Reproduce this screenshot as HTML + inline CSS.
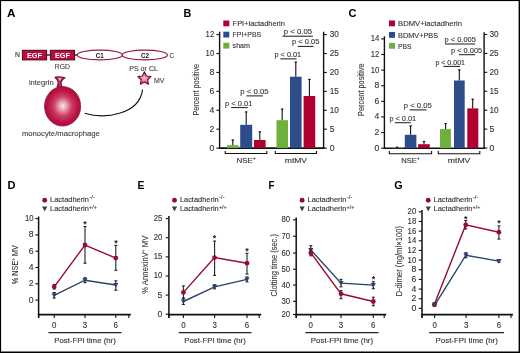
<!DOCTYPE html>
<html><head><meta charset="utf-8"><style>
html,body{margin:0;padding:0;background:#fff;overflow:hidden;width:520px;height:353px;}
svg{display:block;font-family:"Liberation Sans", sans-serif;will-change:transform;}
</style></head><body>
<svg width="520" height="353" viewBox="0 0 520 353">
<rect x="0" y="0" width="520" height="353" fill="#000"/>
<rect x="1.1" y="1.1" width="517.5" height="350.4" fill="#fff"/>
<text x="7" y="16.6" font-size="11" text-anchor="start" fill="#000" font-weight="700" textLength="8.5" lengthAdjust="spacingAndGlyphs">A</text>
<text x="15" y="57.4" font-size="7.4" text-anchor="start" fill="#263030" font-weight="400" textLength="5" lengthAdjust="spacingAndGlyphs" stroke="#263030" stroke-width="0.12">N</text>
<line x1="46.8" y1="55" x2="50.4" y2="55" stroke="#0a1a0a" stroke-width="1.3"/>
<line x1="74.4" y1="55" x2="77.3" y2="55" stroke="#0a1a0a" stroke-width="1.3"/>
<rect x="22.4" y="50.3" width="24.2" height="9.6" fill="#b80e3e" stroke="#520018" stroke-width="1"/>
<text x="34.5" y="58" font-size="7" text-anchor="middle" fill="#fff" font-weight="700" textLength="15" lengthAdjust="spacingAndGlyphs">EGF</text>
<rect x="50.4" y="50.3" width="24.2" height="9.6" fill="#b80e3e" stroke="#520018" stroke-width="1"/>
<text x="62.5" y="58" font-size="7" text-anchor="middle" fill="#fff" font-weight="700" textLength="15" lengthAdjust="spacingAndGlyphs">EGF</text>
<ellipse cx="99.8" cy="55" rx="22.6" ry="4.9" fill="none" stroke="#901a3c" stroke-width="1.2"/>
<ellipse cx="144.8" cy="55" rx="22.6" ry="4.9" fill="none" stroke="#901a3c" stroke-width="1.2"/>
<text x="99.8" y="58" font-size="7" text-anchor="middle" fill="#111" font-weight="700" textLength="8" lengthAdjust="spacingAndGlyphs">C1</text>
<text x="145" y="58" font-size="7" text-anchor="middle" fill="#111" font-weight="700" textLength="8" lengthAdjust="spacingAndGlyphs">C2</text>
<text x="169.4" y="57.6" font-size="7.4" text-anchor="start" fill="#444" font-weight="400" textLength="4.5" lengthAdjust="spacingAndGlyphs" stroke="#444" stroke-width="0.12">C</text>
<text x="54.7" y="69.2" font-size="7.6" text-anchor="start" fill="#444" font-weight="400" textLength="15.2" lengthAdjust="spacingAndGlyphs" stroke="#444" stroke-width="0.12">RGD</text>
<text x="28.9" y="85.2" font-size="7.9" text-anchor="start" fill="#444" font-weight="400" textLength="24.8" lengthAdjust="spacingAndGlyphs" stroke="#444" stroke-width="0.12">integrin</text>
<text x="129.2" y="70.5" font-size="7.2" text-anchor="start" fill="#444" font-weight="400" textLength="28.8" lengthAdjust="spacingAndGlyphs" stroke="#444" stroke-width="0.12">PS or CL</text>
<text x="153.9" y="83.4" font-size="7.5" text-anchor="start" fill="#444" font-weight="400" textLength="10.4" lengthAdjust="spacingAndGlyphs" stroke="#444" stroke-width="0.12">MV</text>
<text x="21.9" y="135.6" font-size="8" text-anchor="start" fill="#444" font-weight="400" textLength="78" lengthAdjust="spacingAndGlyphs" stroke="#444" stroke-width="0.12">monocyte/macrophage</text>
<defs>
<radialGradient id="ball" cx="0.5" cy="0.5" r="0.5" fx="0.51" fy="0.49">
<stop offset="0" stop-color="#f7e6ec"/>
<stop offset="0.22" stop-color="#e6a0b5"/>
<stop offset="0.5" stop-color="#cc3d63"/>
<stop offset="0.8" stop-color="#bb1545"/>
<stop offset="1" stop-color="#a80f3a"/>
</radialGradient>
<radialGradient id="star" cx="0.5" cy="0.5" r="0.5">
<stop offset="0" stop-color="#f8c6d4"/>
<stop offset="0.6" stop-color="#e27595"/>
<stop offset="1" stop-color="#c23a60"/>
</radialGradient>
</defs>
<path d="M55,77.3 Q58.5,76.3 65,77.8 Q61.2,80 60.9,82.4 L61.8,87 L57.2,87 L58.3,82.4 Q57.6,79.5 55,77.3 Z" fill="#b83a5e" stroke="#7a0a2c" stroke-width="1.15" stroke-linejoin="round"/>
<path d="M58.2,78 Q59.6,77.6 61.6,78.2 L59.8,81.2 Z" fill="#eab0c2"/>
<ellipse cx="62.6" cy="106.3" rx="18.1" ry="19.8" fill="url(#ball)" stroke="#9a0f38" stroke-width="0.7"/>
<path d="M84.7,113.3 C104,119 139,115.5 142.6,89.7" fill="none" stroke="#111" stroke-width="1.1"/>
<polygon points="144.40,71.80 146.40,75.95 150.96,76.57 147.63,79.75 148.46,84.28 144.40,82.10 140.34,84.28 141.17,79.75 137.84,76.57 142.40,75.95" fill="url(#star)" stroke="#6e0c2a" stroke-width="1.1" stroke-linejoin="round"/>
<text x="183.6" y="16.6" font-size="10.5" text-anchor="start" fill="#000" font-weight="700" textLength="7.8" lengthAdjust="spacingAndGlyphs">B</text>
<line x1="219.6" y1="31.7" x2="219.6" y2="148.79999999999998" stroke="#111" stroke-width="1.4"/>
<line x1="218.9" y1="148.1" x2="324.3" y2="148.1" stroke="#111" stroke-width="1.6"/>
<line x1="323.6" y1="31.7" x2="323.6" y2="148.79999999999998" stroke="#111" stroke-width="1.4"/>
<line x1="216.4" y1="34.6" x2="219.6" y2="34.6" stroke="#111" stroke-width="1.1"/>
<text x="214.2" y="37.1" font-size="8.6" text-anchor="end" fill="#333333" font-weight="400" textLength="8.6" lengthAdjust="spacingAndGlyphs" stroke="#333333" stroke-width="0.12">12</text>
<line x1="216.4" y1="53.52" x2="219.6" y2="53.52" stroke="#111" stroke-width="1.1"/>
<text x="214.2" y="56.02" font-size="8.6" text-anchor="end" fill="#333333" font-weight="400" textLength="8.6" lengthAdjust="spacingAndGlyphs" stroke="#333333" stroke-width="0.12">10</text>
<line x1="216.4" y1="72.44" x2="219.6" y2="72.44" stroke="#111" stroke-width="1.1"/>
<text x="214.2" y="74.94" font-size="8.6" text-anchor="end" fill="#333333" font-weight="400" textLength="4.8" lengthAdjust="spacingAndGlyphs" stroke="#333333" stroke-width="0.12">8</text>
<line x1="216.4" y1="91.36000000000001" x2="219.6" y2="91.36000000000001" stroke="#111" stroke-width="1.1"/>
<text x="214.2" y="93.86000000000001" font-size="8.6" text-anchor="end" fill="#333333" font-weight="400" textLength="4.8" lengthAdjust="spacingAndGlyphs" stroke="#333333" stroke-width="0.12">6</text>
<line x1="216.4" y1="110.28" x2="219.6" y2="110.28" stroke="#111" stroke-width="1.1"/>
<text x="214.2" y="112.78" font-size="8.6" text-anchor="end" fill="#333333" font-weight="400" textLength="4.8" lengthAdjust="spacingAndGlyphs" stroke="#333333" stroke-width="0.12">4</text>
<line x1="216.4" y1="129.20000000000002" x2="219.6" y2="129.20000000000002" stroke="#111" stroke-width="1.1"/>
<text x="214.2" y="131.70000000000002" font-size="8.6" text-anchor="end" fill="#333333" font-weight="400" textLength="4.8" lengthAdjust="spacingAndGlyphs" stroke="#333333" stroke-width="0.12">2</text>
<line x1="216.4" y1="148.12" x2="219.6" y2="148.12" stroke="#111" stroke-width="1.1"/>
<text x="214.2" y="150.62" font-size="8.6" text-anchor="end" fill="#333333" font-weight="400" textLength="4.8" lengthAdjust="spacingAndGlyphs" stroke="#333333" stroke-width="0.12">0</text>
<line x1="323.6" y1="34.6" x2="326.8" y2="34.6" stroke="#111" stroke-width="1.1"/>
<text x="329.70000000000005" y="37.1" font-size="8.6" text-anchor="start" fill="#333333" font-weight="400" textLength="9.2" lengthAdjust="spacingAndGlyphs" stroke="#333333" stroke-width="0.12">30</text>
<line x1="323.6" y1="53.52" x2="326.8" y2="53.52" stroke="#111" stroke-width="1.1"/>
<text x="329.70000000000005" y="56.02" font-size="8.6" text-anchor="start" fill="#333333" font-weight="400" textLength="9.2" lengthAdjust="spacingAndGlyphs" stroke="#333333" stroke-width="0.12">25</text>
<line x1="323.6" y1="72.44" x2="326.8" y2="72.44" stroke="#111" stroke-width="1.1"/>
<text x="329.70000000000005" y="74.94" font-size="8.6" text-anchor="start" fill="#333333" font-weight="400" textLength="9.2" lengthAdjust="spacingAndGlyphs" stroke="#333333" stroke-width="0.12">20</text>
<line x1="323.6" y1="91.36000000000001" x2="326.8" y2="91.36000000000001" stroke="#111" stroke-width="1.1"/>
<text x="329.70000000000005" y="93.86000000000001" font-size="8.6" text-anchor="start" fill="#333333" font-weight="400" textLength="9.2" lengthAdjust="spacingAndGlyphs" stroke="#333333" stroke-width="0.12">15</text>
<line x1="323.6" y1="110.28" x2="326.8" y2="110.28" stroke="#111" stroke-width="1.1"/>
<text x="329.70000000000005" y="112.78" font-size="8.6" text-anchor="start" fill="#333333" font-weight="400" textLength="9.2" lengthAdjust="spacingAndGlyphs" stroke="#333333" stroke-width="0.12">10</text>
<line x1="323.6" y1="129.20000000000002" x2="326.8" y2="129.20000000000002" stroke="#111" stroke-width="1.1"/>
<text x="329.70000000000005" y="131.70000000000002" font-size="8.6" text-anchor="start" fill="#333333" font-weight="400" textLength="4.8" lengthAdjust="spacingAndGlyphs" stroke="#333333" stroke-width="0.12">5</text>
<line x1="323.6" y1="148.12" x2="326.8" y2="148.12" stroke="#111" stroke-width="1.1"/>
<text x="329.70000000000005" y="150.62" font-size="8.6" text-anchor="start" fill="#333333" font-weight="400" textLength="4.8" lengthAdjust="spacingAndGlyphs" stroke="#333333" stroke-width="0.12">0</text>
<rect x="223.3" y="20.5" width="6" height="5.8" fill="#b0002e"/>
<text x="232.6" y="26.1" font-size="8" text-anchor="start" fill="#333333" font-weight="400" textLength="52.3" lengthAdjust="spacingAndGlyphs" stroke="#333333" stroke-width="0.12">FPI+lactadherin</text>
<rect x="223.3" y="31.7" width="6" height="5.8" fill="#2c4d8a"/>
<text x="232.6" y="37.3" font-size="8" text-anchor="start" fill="#333333" font-weight="400" textLength="28.6" lengthAdjust="spacingAndGlyphs" stroke="#333333" stroke-width="0.12">FPI+PBS</text>
<rect x="223.3" y="42.8" width="6" height="5.8" fill="#6eb03c"/>
<text x="232.6" y="48.4" font-size="8" text-anchor="start" fill="#333333" font-weight="400" textLength="17.4" lengthAdjust="spacingAndGlyphs" stroke="#333333" stroke-width="0.12">sham</text>
<rect x="227" y="145.2" width="11.599999999999994" height="2.9000000000000057" fill="#6eb03c"/>
<rect x="240.2" y="124.8" width="12.0" height="23.299999999999997" fill="#2c4d8a"/>
<rect x="254" y="140" width="11.600000000000023" height="8.099999999999994" fill="#b0002e"/>
<rect x="276.5" y="120.2" width="11.5" height="27.89999999999999" fill="#6eb03c"/>
<rect x="290" y="76.7" width="11.600000000000023" height="71.39999999999999" fill="#2c4d8a"/>
<rect x="303.6" y="96" width="11.599999999999966" height="52.099999999999994" fill="#b0002e"/>
<line x1="232.8" y1="145.2" x2="232.8" y2="140" stroke="#111" stroke-width="1.1"/>
<line x1="231.60000000000002" y1="140" x2="234.0" y2="140" stroke="#111" stroke-width="1.2"/>
<line x1="246.2" y1="124.8" x2="246.2" y2="111.9" stroke="#111" stroke-width="1.1"/>
<line x1="245.0" y1="111.9" x2="247.39999999999998" y2="111.9" stroke="#111" stroke-width="1.2"/>
<line x1="259.8" y1="140" x2="259.8" y2="131.8" stroke="#111" stroke-width="1.1"/>
<line x1="258.6" y1="131.8" x2="261.0" y2="131.8" stroke="#111" stroke-width="1.2"/>
<line x1="282.2" y1="120.2" x2="282.2" y2="109.1" stroke="#111" stroke-width="1.1"/>
<line x1="281.0" y1="109.1" x2="283.4" y2="109.1" stroke="#111" stroke-width="1.2"/>
<line x1="295.8" y1="76.7" x2="295.8" y2="62.1" stroke="#111" stroke-width="1.1"/>
<line x1="294.6" y1="62.1" x2="297.0" y2="62.1" stroke="#111" stroke-width="1.2"/>
<line x1="309.4" y1="96" x2="309.4" y2="79.4" stroke="#111" stroke-width="1.1"/>
<line x1="308.2" y1="79.4" x2="310.59999999999997" y2="79.4" stroke="#111" stroke-width="1.2"/>
<text x="225.1" y="105.6" font-size="8" text-anchor="start" fill="#333333" font-weight="400" textLength="27.2" lengthAdjust="spacingAndGlyphs" stroke="#333333" stroke-width="0.12">p &lt; 0.01</text>
<line x1="231.1" y1="107.6" x2="247.7" y2="107.6" stroke="#1a1a1a" stroke-width="1.0"/>
<text x="240.3" y="94.2" font-size="8" text-anchor="start" fill="#333333" font-weight="400" textLength="28.2" lengthAdjust="spacingAndGlyphs" stroke="#333333" stroke-width="0.12">p &lt; 0.05</text>
<line x1="246.5" y1="95.9" x2="262.9" y2="95.9" stroke="#1a1a1a" stroke-width="1.0"/>
<text x="283.8" y="34.4" font-size="8" text-anchor="start" fill="#333333" font-weight="400" textLength="28.2" lengthAdjust="spacingAndGlyphs" stroke="#333333" stroke-width="0.12">p &lt; 0.05</text>
<line x1="282.5" y1="36.2" x2="312.9" y2="36.2" stroke="#1a1a1a" stroke-width="1.0"/>
<text x="292.1" y="44.4" font-size="8" text-anchor="start" fill="#333333" font-weight="400" textLength="27.2" lengthAdjust="spacingAndGlyphs" stroke="#333333" stroke-width="0.12">p &lt; 0.05</text>
<line x1="297.8" y1="46.4" x2="313.6" y2="46.4" stroke="#1a1a1a" stroke-width="1.0"/>
<text x="274.5" y="56.8" font-size="8" text-anchor="start" fill="#333333" font-weight="400" textLength="26.7" lengthAdjust="spacingAndGlyphs" stroke="#333333" stroke-width="0.12">p &lt; 0.01</text>
<line x1="280.4" y1="58.9" x2="296.6" y2="58.9" stroke="#1a1a1a" stroke-width="1.0"/>
<polyline points="225.2,150.9 225.2,153.5 266.8,153.5 266.8,150.9" fill="none" stroke="#111" stroke-width="1.1"/>

<polyline points="275.3,150.9 275.3,153.5 316.5,153.5 316.5,150.9" fill="none" stroke="#111" stroke-width="1.1"/>

<text transform="translate(199.4,89.75) rotate(-90)" x="0" y="0" font-size="9.7" text-anchor="middle" fill="#333333" stroke="#333333" stroke-width="0.08399999999999999" textLength="51.7" lengthAdjust="spacingAndGlyphs">Percent positive</text>
<text x="236.4" y="162.8" font-size="8" text-anchor="start" fill="#333333" font-weight="400" textLength="19.6" lengthAdjust="spacingAndGlyphs" stroke="#333333" stroke-width="0.12">NSE<tspan font-size="5.5" dy="-2.8">+</tspan></text>
<text x="284.8" y="162.8" font-size="8" text-anchor="start" fill="#333333" font-weight="400" textLength="22.2" lengthAdjust="spacingAndGlyphs" stroke="#333333" stroke-width="0.12">mtMV</text>
<text x="348.4" y="16.8" font-size="10.5" text-anchor="start" fill="#000" font-weight="700" textLength="8.0" lengthAdjust="spacingAndGlyphs">C</text>
<line x1="384.4" y1="36.3" x2="384.4" y2="148.89999999999998" stroke="#111" stroke-width="1.4"/>
<line x1="383.7" y1="148.2" x2="484.8" y2="148.2" stroke="#111" stroke-width="1.6"/>
<line x1="484.1" y1="32.2" x2="484.1" y2="148.89999999999998" stroke="#111" stroke-width="1.4"/>
<line x1="381.2" y1="38.9" x2="384.4" y2="38.9" stroke="#111" stroke-width="1.1"/>
<text x="379.4" y="41.4" font-size="8.6" text-anchor="end" fill="#333333" font-weight="400" textLength="8.6" lengthAdjust="spacingAndGlyphs" stroke="#333333" stroke-width="0.12">14</text>
<line x1="381.2" y1="54.51" x2="384.4" y2="54.51" stroke="#111" stroke-width="1.1"/>
<text x="379.4" y="57.01" font-size="8.6" text-anchor="end" fill="#333333" font-weight="400" textLength="8.6" lengthAdjust="spacingAndGlyphs" stroke="#333333" stroke-width="0.12">12</text>
<line x1="381.2" y1="70.12" x2="384.4" y2="70.12" stroke="#111" stroke-width="1.1"/>
<text x="379.4" y="72.62" font-size="8.6" text-anchor="end" fill="#333333" font-weight="400" textLength="8.6" lengthAdjust="spacingAndGlyphs" stroke="#333333" stroke-width="0.12">10</text>
<line x1="381.2" y1="85.72999999999999" x2="384.4" y2="85.72999999999999" stroke="#111" stroke-width="1.1"/>
<text x="379.4" y="88.22999999999999" font-size="8.6" text-anchor="end" fill="#333333" font-weight="400" textLength="4.8" lengthAdjust="spacingAndGlyphs" stroke="#333333" stroke-width="0.12">8</text>
<line x1="381.2" y1="101.34" x2="384.4" y2="101.34" stroke="#111" stroke-width="1.1"/>
<text x="379.4" y="103.84" font-size="8.6" text-anchor="end" fill="#333333" font-weight="400" textLength="4.8" lengthAdjust="spacingAndGlyphs" stroke="#333333" stroke-width="0.12">6</text>
<line x1="381.2" y1="116.94999999999999" x2="384.4" y2="116.94999999999999" stroke="#111" stroke-width="1.1"/>
<text x="379.4" y="119.44999999999999" font-size="8.6" text-anchor="end" fill="#333333" font-weight="400" textLength="4.8" lengthAdjust="spacingAndGlyphs" stroke="#333333" stroke-width="0.12">4</text>
<line x1="381.2" y1="132.56" x2="384.4" y2="132.56" stroke="#111" stroke-width="1.1"/>
<text x="379.4" y="135.06" font-size="8.6" text-anchor="end" fill="#333333" font-weight="400" textLength="4.8" lengthAdjust="spacingAndGlyphs" stroke="#333333" stroke-width="0.12">2</text>
<line x1="381.2" y1="148.17" x2="384.4" y2="148.17" stroke="#111" stroke-width="1.1"/>
<text x="379.4" y="150.67" font-size="8.6" text-anchor="end" fill="#333333" font-weight="400" textLength="4.8" lengthAdjust="spacingAndGlyphs" stroke="#333333" stroke-width="0.12">0</text>
<line x1="484.1" y1="34.5" x2="487.3" y2="34.5" stroke="#111" stroke-width="1.1"/>
<text x="489.5" y="37.0" font-size="8.6" text-anchor="start" fill="#333333" font-weight="400" textLength="9.2" lengthAdjust="spacingAndGlyphs" stroke="#333333" stroke-width="0.12">30</text>
<line x1="484.1" y1="53.42" x2="487.3" y2="53.42" stroke="#111" stroke-width="1.1"/>
<text x="489.5" y="55.92" font-size="8.6" text-anchor="start" fill="#333333" font-weight="400" textLength="9.2" lengthAdjust="spacingAndGlyphs" stroke="#333333" stroke-width="0.12">25</text>
<line x1="484.1" y1="72.34" x2="487.3" y2="72.34" stroke="#111" stroke-width="1.1"/>
<text x="489.5" y="74.84" font-size="8.6" text-anchor="start" fill="#333333" font-weight="400" textLength="9.2" lengthAdjust="spacingAndGlyphs" stroke="#333333" stroke-width="0.12">20</text>
<line x1="484.1" y1="91.26" x2="487.3" y2="91.26" stroke="#111" stroke-width="1.1"/>
<text x="489.5" y="93.76" font-size="8.6" text-anchor="start" fill="#333333" font-weight="400" textLength="9.2" lengthAdjust="spacingAndGlyphs" stroke="#333333" stroke-width="0.12">15</text>
<line x1="484.1" y1="110.18" x2="487.3" y2="110.18" stroke="#111" stroke-width="1.1"/>
<text x="489.5" y="112.68" font-size="8.6" text-anchor="start" fill="#333333" font-weight="400" textLength="9.2" lengthAdjust="spacingAndGlyphs" stroke="#333333" stroke-width="0.12">10</text>
<line x1="484.1" y1="129.10000000000002" x2="487.3" y2="129.10000000000002" stroke="#111" stroke-width="1.1"/>
<text x="489.5" y="131.60000000000002" font-size="8.6" text-anchor="start" fill="#333333" font-weight="400" textLength="4.8" lengthAdjust="spacingAndGlyphs" stroke="#333333" stroke-width="0.12">5</text>
<line x1="484.1" y1="148.02" x2="487.3" y2="148.02" stroke="#111" stroke-width="1.1"/>
<text x="489.5" y="150.52" font-size="8.6" text-anchor="start" fill="#333333" font-weight="400" textLength="4.8" lengthAdjust="spacingAndGlyphs" stroke="#333333" stroke-width="0.12">0</text>
<rect x="389" y="20.5" width="6" height="5.8" fill="#b0002e"/>
<text x="398.1" y="26.1" font-size="8" text-anchor="start" fill="#333333" font-weight="400" textLength="63.8" lengthAdjust="spacingAndGlyphs" stroke="#333333" stroke-width="0.12">BDMV+lactadherin</text>
<rect x="389" y="32" width="6" height="5.8" fill="#2c4d8a"/>
<text x="398.1" y="37.6" font-size="8" text-anchor="start" fill="#333333" font-weight="400" textLength="40" lengthAdjust="spacingAndGlyphs" stroke="#333333" stroke-width="0.12">BDMV+PBS</text>
<rect x="389" y="42.9" width="6" height="5.8" fill="#6eb03c"/>
<text x="398.1" y="48.5" font-size="8" text-anchor="start" fill="#333333" font-weight="400" textLength="13.4" lengthAdjust="spacingAndGlyphs" stroke="#333333" stroke-width="0.12">PBS</text>
<rect x="391.5" y="147.9" width="11.5" height="0.29999999999998295" fill="#6eb03c"/>
<rect x="404.8" y="134.8" width="11.599999999999966" height="13.399999999999977" fill="#2c4d8a"/>
<rect x="418.1" y="144.2" width="11.699999999999989" height="4.0" fill="#b0002e"/>
<rect x="440" y="129.1" width="10.899999999999977" height="19.099999999999994" fill="#6eb03c"/>
<rect x="454" y="80.5" width="10.699999999999989" height="67.69999999999999" fill="#2c4d8a"/>
<rect x="467.3" y="108.4" width="11.0" height="39.79999999999998" fill="#b0002e"/>
<line x1="397.2" y1="147.9" x2="397.2" y2="147.2" stroke="#111" stroke-width="1.1"/>
<line x1="396.0" y1="147.2" x2="398.4" y2="147.2" stroke="#111" stroke-width="1.2"/>
<line x1="410.6" y1="134.8" x2="410.6" y2="125.9" stroke="#111" stroke-width="1.1"/>
<line x1="409.40000000000003" y1="125.9" x2="411.8" y2="125.9" stroke="#111" stroke-width="1.2"/>
<line x1="424" y1="144.2" x2="424" y2="141.6" stroke="#111" stroke-width="1.1"/>
<line x1="422.8" y1="141.6" x2="425.2" y2="141.6" stroke="#111" stroke-width="1.2"/>
<line x1="445.6" y1="129.1" x2="445.6" y2="123.6" stroke="#111" stroke-width="1.1"/>
<line x1="444.40000000000003" y1="123.6" x2="446.8" y2="123.6" stroke="#111" stroke-width="1.2"/>
<line x1="459.3" y1="80.5" x2="459.3" y2="69.9" stroke="#111" stroke-width="1.1"/>
<line x1="458.1" y1="69.9" x2="460.5" y2="69.9" stroke="#111" stroke-width="1.2"/>
<line x1="472.7" y1="108.4" x2="472.7" y2="99.3" stroke="#111" stroke-width="1.1"/>
<line x1="471.5" y1="99.3" x2="473.9" y2="99.3" stroke="#111" stroke-width="1.2"/>
<text x="389.5" y="121" font-size="8" text-anchor="start" fill="#333333" font-weight="400" textLength="26.5" lengthAdjust="spacingAndGlyphs" stroke="#333333" stroke-width="0.12">p &lt; 0.01</text>
<line x1="394.9" y1="122.7" x2="410.7" y2="122.7" stroke="#1a1a1a" stroke-width="1.0"/>
<text x="403.8" y="108.2" font-size="8" text-anchor="start" fill="#333333" font-weight="400" textLength="28" lengthAdjust="spacingAndGlyphs" stroke="#333333" stroke-width="0.12">p &lt; 0.05</text>
<line x1="409.7" y1="109.9" x2="426.5" y2="109.9" stroke="#1a1a1a" stroke-width="1.0"/>
<text x="444.6" y="41.9" font-size="8" text-anchor="start" fill="#333333" font-weight="400" textLength="31.2" lengthAdjust="spacingAndGlyphs" stroke="#333333" stroke-width="0.12">p &lt; 0.005</text>
<line x1="445.3" y1="44" x2="475.2" y2="44" stroke="#1a1a1a" stroke-width="1.0"/>
<text x="451" y="52.8" font-size="8" text-anchor="start" fill="#333333" font-weight="400" textLength="31.2" lengthAdjust="spacingAndGlyphs" stroke="#333333" stroke-width="0.12">p &lt; 0.005</text>
<line x1="459" y1="54.7" x2="475.2" y2="54.7" stroke="#1a1a1a" stroke-width="1.0"/>
<text x="435.4" y="64.6" font-size="8" text-anchor="start" fill="#333333" font-weight="400" textLength="29.6" lengthAdjust="spacingAndGlyphs" stroke="#333333" stroke-width="0.12">p &lt; 0.001</text>
<line x1="443.4" y1="66.4" x2="460" y2="66.4" stroke="#1a1a1a" stroke-width="1.0"/>
<polyline points="389.3,151.1 389.3,153.7 431.6,153.7 431.6,151.1" fill="none" stroke="#111" stroke-width="1.1"/>

<polyline points="438.3,151.1 438.3,153.7 479.8,153.7 479.8,151.1" fill="none" stroke="#111" stroke-width="1.1"/>

<text transform="translate(363.8,89.75) rotate(-90)" x="0" y="0" font-size="9.7" text-anchor="middle" fill="#333333" stroke="#333333" stroke-width="0.08399999999999999" textLength="52.5" lengthAdjust="spacingAndGlyphs">Percent positive</text>
<text x="401.3" y="162.6" font-size="8" text-anchor="start" fill="#333333" font-weight="400" textLength="18.6" lengthAdjust="spacingAndGlyphs" stroke="#333333" stroke-width="0.12">NSE<tspan font-size="5.5" dy="-2.8">+</tspan></text>
<text x="447.8" y="162.6" font-size="8" text-anchor="start" fill="#333333" font-weight="400" textLength="22.6" lengthAdjust="spacingAndGlyphs" stroke="#333333" stroke-width="0.12">mtMV</text>
<text x="7.6" y="189.3" font-size="10.5" text-anchor="start" fill="#000" font-weight="700" textLength="8.0" lengthAdjust="spacingAndGlyphs">D</text>
<circle cx="44.7" cy="200.3" r="2.45" fill="#9a0a36"/>
<polygon points="42.1,206.6 47.300000000000004,206.6 44.7,211.4" fill="#2a426e"/>
<text x="50.1" y="202.2" font-size="7.8" text-anchor="start" fill="#333333" font-weight="400" textLength="38.8" lengthAdjust="spacingAndGlyphs" stroke="#333333" stroke-width="0.12">Lactadherin</text>
<text x="50.1" y="211.3" font-size="7.8" text-anchor="start" fill="#333333" font-weight="400" textLength="38.8" lengthAdjust="spacingAndGlyphs" stroke="#333333" stroke-width="0.12">Lactadherin</text>
<text x="89.4" y="199" font-size="6" text-anchor="start" fill="#333333" font-weight="400" textLength="5.4" lengthAdjust="spacingAndGlyphs" stroke="#333333" stroke-width="0.12">-/-</text>
<text x="89.1" y="208.6" font-size="6" text-anchor="start" fill="#333333" font-weight="400" textLength="7.8" lengthAdjust="spacingAndGlyphs" stroke="#333333" stroke-width="0.12">+/+</text>
<line x1="38.6" y1="216.5" x2="38.6" y2="318.0" stroke="#111" stroke-width="1.5"/>
<line x1="37.9" y1="314.7" x2="130.8" y2="314.7" stroke="#111" stroke-width="1.7"/>
<line x1="38.6" y1="314.7" x2="38.6" y2="318.0" stroke="#111" stroke-width="1.1"/>
<line x1="54.2" y1="314.7" x2="54.2" y2="318.0" stroke="#111" stroke-width="1.1"/>
<line x1="85" y1="314.7" x2="85" y2="318.0" stroke="#111" stroke-width="1.1"/>
<line x1="115.8" y1="314.7" x2="115.8" y2="318.0" stroke="#111" stroke-width="1.1"/>
<line x1="128.8" y1="314.7" x2="128.8" y2="318.0" stroke="#111" stroke-width="1.1"/>
<line x1="35.4" y1="218.6" x2="38.6" y2="218.6" stroke="#111" stroke-width="1.1"/>
<text x="33.6" y="221.1" font-size="8.6" text-anchor="end" fill="#333333" font-weight="400" textLength="8.6" lengthAdjust="spacingAndGlyphs" stroke="#333333" stroke-width="0.12">10</text>
<line x1="35.4" y1="234.9" x2="38.6" y2="234.9" stroke="#111" stroke-width="1.1"/>
<text x="33.6" y="237.4" font-size="8.6" text-anchor="end" fill="#333333" font-weight="400" textLength="4.8" lengthAdjust="spacingAndGlyphs" stroke="#333333" stroke-width="0.12">8</text>
<line x1="35.4" y1="251.2" x2="38.6" y2="251.2" stroke="#111" stroke-width="1.1"/>
<text x="33.6" y="253.7" font-size="8.6" text-anchor="end" fill="#333333" font-weight="400" textLength="4.8" lengthAdjust="spacingAndGlyphs" stroke="#333333" stroke-width="0.12">6</text>
<line x1="35.4" y1="267.5" x2="38.6" y2="267.5" stroke="#111" stroke-width="1.1"/>
<text x="33.6" y="270.0" font-size="8.6" text-anchor="end" fill="#333333" font-weight="400" textLength="4.8" lengthAdjust="spacingAndGlyphs" stroke="#333333" stroke-width="0.12">4</text>
<line x1="35.4" y1="283.8" x2="38.6" y2="283.8" stroke="#111" stroke-width="1.1"/>
<text x="33.6" y="286.3" font-size="8.6" text-anchor="end" fill="#333333" font-weight="400" textLength="4.8" lengthAdjust="spacingAndGlyphs" stroke="#333333" stroke-width="0.12">2</text>
<line x1="35.4" y1="300.1" x2="38.6" y2="300.1" stroke="#111" stroke-width="1.1"/>
<text x="33.6" y="302.6" font-size="8.6" text-anchor="end" fill="#333333" font-weight="400" textLength="4.8" lengthAdjust="spacingAndGlyphs" stroke="#333333" stroke-width="0.12">0</text>
<text x="54.2" y="328.1" font-size="8.6" text-anchor="middle" fill="#333333" font-weight="400" textLength="4.4" lengthAdjust="spacingAndGlyphs" stroke="#333333" stroke-width="0.12">0</text>
<text x="85" y="328.1" font-size="8.6" text-anchor="middle" fill="#333333" font-weight="400" textLength="4.4" lengthAdjust="spacingAndGlyphs" stroke="#333333" stroke-width="0.12">3</text>
<text x="115.8" y="328.1" font-size="8.6" text-anchor="middle" fill="#333333" font-weight="400" textLength="4.4" lengthAdjust="spacingAndGlyphs" stroke="#333333" stroke-width="0.12">6</text>
<line x1="48.5" y1="332.7" x2="121.5" y2="332.7" stroke="#222" stroke-width="1.2"/>
<text x="54.2" y="343.2" font-size="7.6" text-anchor="start" fill="#333333" font-weight="400" textLength="61.599999999999994" lengthAdjust="spacingAndGlyphs" stroke="#333333" stroke-width="0.12">Post-FPI time (hr)</text>
<polyline points="54.2,295.3 85,280.2 115.8,285" fill="none" stroke="#2a426e" stroke-width="1.4"/>
<line x1="54.2" y1="292.5" x2="54.2" y2="298.1" stroke="#222" stroke-width="1.1"/>
<line x1="52.7" y1="292.5" x2="55.7" y2="292.5" stroke="#222" stroke-width="1.1"/>
<line x1="52.7" y1="298.1" x2="55.7" y2="298.1" stroke="#222" stroke-width="1.1"/>
<polygon points="51.6,293.3 56.800000000000004,293.3 54.2,297.90000000000003" fill="#2a426e"/>
<line x1="85" y1="277.7" x2="85" y2="282.7" stroke="#222" stroke-width="1.1"/>
<line x1="83.5" y1="277.7" x2="86.5" y2="277.7" stroke="#222" stroke-width="1.1"/>
<line x1="83.5" y1="282.7" x2="86.5" y2="282.7" stroke="#222" stroke-width="1.1"/>
<polygon points="82.4,278.2 87.6,278.2 85,282.8" fill="#2a426e"/>
<line x1="115.8" y1="280.8" x2="115.8" y2="290.2" stroke="#222" stroke-width="1.1"/>
<line x1="114.3" y1="280.8" x2="117.3" y2="280.8" stroke="#222" stroke-width="1.1"/>
<line x1="114.3" y1="290.2" x2="117.3" y2="290.2" stroke="#222" stroke-width="1.1"/>
<polygon points="113.2,283 118.39999999999999,283 115.8,287.6" fill="#2a426e"/>
<polyline points="54.2,286.8 85,245 115.8,258.1" fill="none" stroke="#9a0a36" stroke-width="1.4"/>
<line x1="54.2" y1="284.5" x2="54.2" y2="289" stroke="#222" stroke-width="1.1"/>
<line x1="52.7" y1="284.5" x2="55.7" y2="284.5" stroke="#222" stroke-width="1.1"/>
<line x1="52.7" y1="289" x2="55.7" y2="289" stroke="#222" stroke-width="1.1"/>
<circle cx="54.2" cy="286.8" r="2.4" fill="#9a0a36"/>
<line x1="85" y1="226.5" x2="85" y2="263.2" stroke="#222" stroke-width="1.1"/>
<line x1="83.5" y1="226.5" x2="86.5" y2="226.5" stroke="#222" stroke-width="1.1"/>
<line x1="83.5" y1="263.2" x2="86.5" y2="263.2" stroke="#222" stroke-width="1.1"/>
<circle cx="85" cy="245" r="2.4" fill="#9a0a36"/>
<line x1="115.8" y1="245.4" x2="115.8" y2="270.3" stroke="#222" stroke-width="1.1"/>
<line x1="114.3" y1="245.4" x2="117.3" y2="245.4" stroke="#222" stroke-width="1.1"/>
<line x1="114.3" y1="270.3" x2="117.3" y2="270.3" stroke="#222" stroke-width="1.1"/>
<circle cx="115.8" cy="258.1" r="2.4" fill="#9a0a36"/>
<text x="85" y="227.4" font-size="9" text-anchor="middle" fill="#222" font-weight="700">*</text>
<text x="116" y="246.1" font-size="9" text-anchor="middle" fill="#222" font-weight="700">*</text>
<text transform="translate(18.2,264.7) rotate(-90)" x="0" y="0" font-size="9.7" text-anchor="middle" fill="#333333" stroke="#333333" stroke-width="0.08399999999999999" textLength="39.2" lengthAdjust="spacingAndGlyphs">% NSE<tspan font-size="6" dy="-3">+</tspan><tspan dy="3"> MV</tspan></text>
<text x="137.6" y="189.3" font-size="10.5" text-anchor="start" fill="#000" font-weight="700" textLength="6.9" lengthAdjust="spacingAndGlyphs">E</text>
<circle cx="174.5" cy="200.3" r="2.45" fill="#9a0a36"/>
<polygon points="171.9,206.6 177.1,206.6 174.5,211.4" fill="#2a426e"/>
<text x="179.9" y="202.2" font-size="7.8" text-anchor="start" fill="#333333" font-weight="400" textLength="38.8" lengthAdjust="spacingAndGlyphs" stroke="#333333" stroke-width="0.12">Lactadherin</text>
<text x="179.9" y="211.3" font-size="7.8" text-anchor="start" fill="#333333" font-weight="400" textLength="38.8" lengthAdjust="spacingAndGlyphs" stroke="#333333" stroke-width="0.12">Lactadherin</text>
<text x="219.2" y="199" font-size="6" text-anchor="start" fill="#333333" font-weight="400" textLength="5.4" lengthAdjust="spacingAndGlyphs" stroke="#333333" stroke-width="0.12">-/-</text>
<text x="218.9" y="208.6" font-size="6" text-anchor="start" fill="#333333" font-weight="400" textLength="7.8" lengthAdjust="spacingAndGlyphs" stroke="#333333" stroke-width="0.12">+/+</text>
<line x1="168.9" y1="215.9" x2="168.9" y2="318.0" stroke="#111" stroke-width="1.5"/>
<line x1="168.20000000000002" y1="314.7" x2="261.2" y2="314.7" stroke="#111" stroke-width="1.7"/>
<line x1="168.9" y1="314.7" x2="168.9" y2="318.0" stroke="#111" stroke-width="1.1"/>
<line x1="183.4" y1="314.7" x2="183.4" y2="318.0" stroke="#111" stroke-width="1.1"/>
<line x1="214.6" y1="314.7" x2="214.6" y2="318.0" stroke="#111" stroke-width="1.1"/>
<line x1="247" y1="314.7" x2="247" y2="318.0" stroke="#111" stroke-width="1.1"/>
<line x1="259.2" y1="314.7" x2="259.2" y2="318.0" stroke="#111" stroke-width="1.1"/>
<line x1="165.70000000000002" y1="218.6" x2="168.9" y2="218.6" stroke="#111" stroke-width="1.1"/>
<text x="162.4" y="221.1" font-size="8.6" text-anchor="end" fill="#333333" font-weight="400" textLength="8.6" lengthAdjust="spacingAndGlyphs" stroke="#333333" stroke-width="0.12">25</text>
<line x1="165.70000000000002" y1="237.72" x2="168.9" y2="237.72" stroke="#111" stroke-width="1.1"/>
<text x="162.4" y="240.22" font-size="8.6" text-anchor="end" fill="#333333" font-weight="400" textLength="8.6" lengthAdjust="spacingAndGlyphs" stroke="#333333" stroke-width="0.12">20</text>
<line x1="165.70000000000002" y1="256.84" x2="168.9" y2="256.84" stroke="#111" stroke-width="1.1"/>
<text x="162.4" y="259.34" font-size="8.6" text-anchor="end" fill="#333333" font-weight="400" textLength="8.6" lengthAdjust="spacingAndGlyphs" stroke="#333333" stroke-width="0.12">15</text>
<line x1="165.70000000000002" y1="275.96" x2="168.9" y2="275.96" stroke="#111" stroke-width="1.1"/>
<text x="162.4" y="278.46" font-size="8.6" text-anchor="end" fill="#333333" font-weight="400" textLength="8.6" lengthAdjust="spacingAndGlyphs" stroke="#333333" stroke-width="0.12">10</text>
<line x1="165.70000000000002" y1="295.08" x2="168.9" y2="295.08" stroke="#111" stroke-width="1.1"/>
<text x="162.4" y="297.58" font-size="8.6" text-anchor="end" fill="#333333" font-weight="400" textLength="4.8" lengthAdjust="spacingAndGlyphs" stroke="#333333" stroke-width="0.12">5</text>
<line x1="165.70000000000002" y1="314.2" x2="168.9" y2="314.2" stroke="#111" stroke-width="1.1"/>
<text x="162.4" y="316.7" font-size="8.6" text-anchor="end" fill="#333333" font-weight="400" textLength="4.8" lengthAdjust="spacingAndGlyphs" stroke="#333333" stroke-width="0.12">0</text>
<text x="183.4" y="328.1" font-size="8.6" text-anchor="middle" fill="#333333" font-weight="400" textLength="4.4" lengthAdjust="spacingAndGlyphs" stroke="#333333" stroke-width="0.12">0</text>
<text x="214.6" y="328.1" font-size="8.6" text-anchor="middle" fill="#333333" font-weight="400" textLength="4.4" lengthAdjust="spacingAndGlyphs" stroke="#333333" stroke-width="0.12">3</text>
<text x="247" y="328.1" font-size="8.6" text-anchor="middle" fill="#333333" font-weight="400" textLength="4.4" lengthAdjust="spacingAndGlyphs" stroke="#333333" stroke-width="0.12">6</text>
<line x1="178.8" y1="332.7" x2="251.5" y2="332.7" stroke="#222" stroke-width="1.2"/>
<text x="184.2" y="343.2" font-size="7.6" text-anchor="start" fill="#333333" font-weight="400" textLength="61.60000000000002" lengthAdjust="spacingAndGlyphs" stroke="#333333" stroke-width="0.12">Post-FPI time (hr)</text>
<polyline points="183.4,301.5 214.6,286.8 247,279.4" fill="none" stroke="#2a426e" stroke-width="1.4"/>
<line x1="183.4" y1="298.5" x2="183.4" y2="304.5" stroke="#222" stroke-width="1.1"/>
<line x1="181.9" y1="298.5" x2="184.9" y2="298.5" stroke="#222" stroke-width="1.1"/>
<line x1="181.9" y1="304.5" x2="184.9" y2="304.5" stroke="#222" stroke-width="1.1"/>
<polygon points="180.8,299.5 186.0,299.5 183.4,304.1" fill="#2a426e"/>
<line x1="214.6" y1="284.8" x2="214.6" y2="288.8" stroke="#222" stroke-width="1.1"/>
<line x1="213.1" y1="284.8" x2="216.1" y2="284.8" stroke="#222" stroke-width="1.1"/>
<line x1="213.1" y1="288.8" x2="216.1" y2="288.8" stroke="#222" stroke-width="1.1"/>
<polygon points="212.0,284.8 217.2,284.8 214.6,289.40000000000003" fill="#2a426e"/>
<line x1="247" y1="276.9" x2="247" y2="281.9" stroke="#222" stroke-width="1.1"/>
<line x1="245.5" y1="276.9" x2="248.5" y2="276.9" stroke="#222" stroke-width="1.1"/>
<line x1="245.5" y1="281.9" x2="248.5" y2="281.9" stroke="#222" stroke-width="1.1"/>
<polygon points="244.4,277.4 249.6,277.4 247,282.0" fill="#2a426e"/>
<polyline points="183.4,292.4 214.6,257.6 247,263.2" fill="none" stroke="#9a0a36" stroke-width="1.4"/>
<line x1="183.4" y1="285.9" x2="183.4" y2="298.1" stroke="#222" stroke-width="1.1"/>
<line x1="181.9" y1="285.9" x2="184.9" y2="285.9" stroke="#222" stroke-width="1.1"/>
<line x1="181.9" y1="298.1" x2="184.9" y2="298.1" stroke="#222" stroke-width="1.1"/>
<circle cx="183.4" cy="292.4" r="2.4" fill="#9a0a36"/>
<line x1="214.6" y1="241.1" x2="214.6" y2="275.4" stroke="#222" stroke-width="1.1"/>
<line x1="213.1" y1="241.1" x2="216.1" y2="241.1" stroke="#222" stroke-width="1.1"/>
<line x1="213.1" y1="275.4" x2="216.1" y2="275.4" stroke="#222" stroke-width="1.1"/>
<circle cx="214.6" cy="257.6" r="2.4" fill="#9a0a36"/>
<line x1="247" y1="253.3" x2="247" y2="274" stroke="#222" stroke-width="1.1"/>
<line x1="245.5" y1="253.3" x2="248.5" y2="253.3" stroke="#222" stroke-width="1.1"/>
<line x1="245.5" y1="274" x2="248.5" y2="274" stroke="#222" stroke-width="1.1"/>
<circle cx="247" cy="263.2" r="2.4" fill="#9a0a36"/>
<text x="214.4" y="240.8" font-size="9" text-anchor="middle" fill="#222" font-weight="700">*</text>
<text x="247" y="254.3" font-size="9" text-anchor="middle" fill="#222" font-weight="700">*</text>
<text transform="translate(148.4,264.7) rotate(-90)" x="0" y="0" font-size="9.7" text-anchor="middle" fill="#333333" stroke="#333333" stroke-width="0.08399999999999999" textLength="58.2" lengthAdjust="spacingAndGlyphs">% AnnexinV<tspan font-size="6" dy="-3">+</tspan><tspan dy="3"> MV</tspan></text>
<text x="268.5" y="189.3" font-size="10.5" text-anchor="start" fill="#000" font-weight="700" textLength="6.0" lengthAdjust="spacingAndGlyphs">F</text>
<circle cx="302.1" cy="200.3" r="2.45" fill="#9a0a36"/>
<polygon points="299.5,206.6 304.70000000000005,206.6 302.1,211.4" fill="#2a426e"/>
<text x="307.5" y="202.2" font-size="7.8" text-anchor="start" fill="#333333" font-weight="400" textLength="38.8" lengthAdjust="spacingAndGlyphs" stroke="#333333" stroke-width="0.12">Lactadherin</text>
<text x="307.5" y="211.3" font-size="7.8" text-anchor="start" fill="#333333" font-weight="400" textLength="38.8" lengthAdjust="spacingAndGlyphs" stroke="#333333" stroke-width="0.12">Lactadherin</text>
<text x="346.8" y="199" font-size="6" text-anchor="start" fill="#333333" font-weight="400" textLength="5.4" lengthAdjust="spacingAndGlyphs" stroke="#333333" stroke-width="0.12">-/-</text>
<text x="346.5" y="208.6" font-size="6" text-anchor="start" fill="#333333" font-weight="400" textLength="7.8" lengthAdjust="spacingAndGlyphs" stroke="#333333" stroke-width="0.12">+/+</text>
<line x1="296.2" y1="217.4" x2="296.2" y2="318.0" stroke="#111" stroke-width="1.5"/>
<line x1="295.5" y1="314.7" x2="386.2" y2="314.7" stroke="#111" stroke-width="1.7"/>
<line x1="296.2" y1="314.7" x2="296.2" y2="318.0" stroke="#111" stroke-width="1.1"/>
<line x1="310.8" y1="314.7" x2="310.8" y2="318.0" stroke="#111" stroke-width="1.1"/>
<line x1="341" y1="314.7" x2="341" y2="318.0" stroke="#111" stroke-width="1.1"/>
<line x1="373.3" y1="314.7" x2="373.3" y2="318.0" stroke="#111" stroke-width="1.1"/>
<line x1="384.2" y1="314.7" x2="384.2" y2="318.0" stroke="#111" stroke-width="1.1"/>
<line x1="293.0" y1="219.8" x2="296.2" y2="219.8" stroke="#111" stroke-width="1.1"/>
<text x="290.0" y="222.3" font-size="8.6" text-anchor="end" fill="#333333" font-weight="400" textLength="8.6" lengthAdjust="spacingAndGlyphs" stroke="#333333" stroke-width="0.12">80</text>
<line x1="293.0" y1="236.3" x2="296.2" y2="236.3" stroke="#111" stroke-width="1.1"/>
<text x="290.0" y="238.8" font-size="8.6" text-anchor="end" fill="#333333" font-weight="400" textLength="8.6" lengthAdjust="spacingAndGlyphs" stroke="#333333" stroke-width="0.12">70</text>
<line x1="293.0" y1="253" x2="296.2" y2="253" stroke="#111" stroke-width="1.1"/>
<text x="290.0" y="255.5" font-size="8.6" text-anchor="end" fill="#333333" font-weight="400" textLength="8.6" lengthAdjust="spacingAndGlyphs" stroke="#333333" stroke-width="0.12">60</text>
<line x1="293.0" y1="269.2" x2="296.2" y2="269.2" stroke="#111" stroke-width="1.1"/>
<text x="290.0" y="271.7" font-size="8.6" text-anchor="end" fill="#333333" font-weight="400" textLength="8.6" lengthAdjust="spacingAndGlyphs" stroke="#333333" stroke-width="0.12">50</text>
<line x1="293.0" y1="285" x2="296.2" y2="285" stroke="#111" stroke-width="1.1"/>
<text x="290.0" y="287.5" font-size="8.6" text-anchor="end" fill="#333333" font-weight="400" textLength="8.6" lengthAdjust="spacingAndGlyphs" stroke="#333333" stroke-width="0.12">40</text>
<line x1="293.0" y1="301.3" x2="296.2" y2="301.3" stroke="#111" stroke-width="1.1"/>
<text x="290.0" y="303.8" font-size="8.6" text-anchor="end" fill="#333333" font-weight="400" textLength="8.6" lengthAdjust="spacingAndGlyphs" stroke="#333333" stroke-width="0.12">30</text>
<line x1="293.0" y1="314.5" x2="296.2" y2="314.5" stroke="#111" stroke-width="1.1"/>
<text x="290.0" y="317.0" font-size="8.6" text-anchor="end" fill="#333333" font-weight="400" textLength="8.6" lengthAdjust="spacingAndGlyphs" stroke="#333333" stroke-width="0.12">20</text>
<text x="310.8" y="328.1" font-size="8.6" text-anchor="middle" fill="#333333" font-weight="400" textLength="4.4" lengthAdjust="spacingAndGlyphs" stroke="#333333" stroke-width="0.12">0</text>
<text x="341" y="328.1" font-size="8.6" text-anchor="middle" fill="#333333" font-weight="400" textLength="4.4" lengthAdjust="spacingAndGlyphs" stroke="#333333" stroke-width="0.12">3</text>
<text x="373.3" y="328.1" font-size="8.6" text-anchor="middle" fill="#333333" font-weight="400" textLength="4.4" lengthAdjust="spacingAndGlyphs" stroke="#333333" stroke-width="0.12">6</text>
<line x1="305.4" y1="332.7" x2="378.5" y2="332.7" stroke="#222" stroke-width="1.2"/>
<text x="310.8" y="343.2" font-size="7.6" text-anchor="start" fill="#333333" font-weight="400" textLength="62.30000000000001" lengthAdjust="spacingAndGlyphs" stroke="#333333" stroke-width="0.12">Post-FPI time (hr)</text>
<polyline points="310.8,249.9 341,283.1 373.3,285.1" fill="none" stroke="#2a426e" stroke-width="1.4"/>
<line x1="310.8" y1="245.7" x2="310.8" y2="254.2" stroke="#222" stroke-width="1.1"/>
<line x1="309.3" y1="245.7" x2="312.3" y2="245.7" stroke="#222" stroke-width="1.1"/>
<line x1="309.3" y1="254.2" x2="312.3" y2="254.2" stroke="#222" stroke-width="1.1"/>
<polygon points="308.2,247.9 313.40000000000003,247.9 310.8,252.5" fill="#2a426e"/>
<line x1="341" y1="279.4" x2="341" y2="286.8" stroke="#222" stroke-width="1.1"/>
<line x1="339.5" y1="279.4" x2="342.5" y2="279.4" stroke="#222" stroke-width="1.1"/>
<line x1="339.5" y1="286.8" x2="342.5" y2="286.8" stroke="#222" stroke-width="1.1"/>
<polygon points="338.4,281.1 343.6,281.1 341,285.70000000000005" fill="#2a426e"/>
<line x1="373.3" y1="281.7" x2="373.3" y2="288.7" stroke="#222" stroke-width="1.1"/>
<line x1="371.8" y1="281.7" x2="374.8" y2="281.7" stroke="#222" stroke-width="1.1"/>
<line x1="371.8" y1="288.7" x2="374.8" y2="288.7" stroke="#222" stroke-width="1.1"/>
<polygon points="370.7,283.1 375.90000000000003,283.1 373.3,287.70000000000005" fill="#2a426e"/>
<polyline points="310.8,252.8 341,293.8 373.3,301.5" fill="none" stroke="#9a0a36" stroke-width="1.4"/>
<line x1="310.8" y1="249.8" x2="310.8" y2="255.8" stroke="#222" stroke-width="1.1"/>
<line x1="309.3" y1="249.8" x2="312.3" y2="249.8" stroke="#222" stroke-width="1.1"/>
<line x1="309.3" y1="255.8" x2="312.3" y2="255.8" stroke="#222" stroke-width="1.1"/>
<circle cx="310.8" cy="252.8" r="2.4" fill="#9a0a36"/>
<line x1="341" y1="290.7" x2="341" y2="298.7" stroke="#222" stroke-width="1.1"/>
<line x1="339.5" y1="290.7" x2="342.5" y2="290.7" stroke="#222" stroke-width="1.1"/>
<line x1="339.5" y1="298.7" x2="342.5" y2="298.7" stroke="#222" stroke-width="1.1"/>
<circle cx="341" cy="293.8" r="2.4" fill="#9a0a36"/>
<line x1="373.3" y1="297.2" x2="373.3" y2="305.7" stroke="#222" stroke-width="1.1"/>
<line x1="371.8" y1="297.2" x2="374.8" y2="297.2" stroke="#222" stroke-width="1.1"/>
<line x1="371.8" y1="305.7" x2="374.8" y2="305.7" stroke="#222" stroke-width="1.1"/>
<circle cx="373.3" cy="301.5" r="2.4" fill="#9a0a36"/>
<text x="373.4" y="282.0" font-size="9" text-anchor="middle" fill="#222" font-weight="700">*</text>
<text transform="translate(276.6,265.3) rotate(-90)" x="0" y="0" font-size="9.7" text-anchor="middle" fill="#333333" stroke="#333333" stroke-width="0.08399999999999999" textLength="62.5" lengthAdjust="spacingAndGlyphs">Clotting time (sec.)</text>
<text x="394.2" y="189.3" font-size="10.5" text-anchor="start" fill="#000" font-weight="700" textLength="8.4" lengthAdjust="spacingAndGlyphs">G</text>
<circle cx="428.2" cy="200.3" r="2.45" fill="#9a0a36"/>
<polygon points="425.59999999999997,206.6 430.8,206.6 428.2,211.4" fill="#2a426e"/>
<text x="433.59999999999997" y="202.2" font-size="7.8" text-anchor="start" fill="#333333" font-weight="400" textLength="38.8" lengthAdjust="spacingAndGlyphs" stroke="#333333" stroke-width="0.12">Lactadherin</text>
<text x="433.59999999999997" y="211.3" font-size="7.8" text-anchor="start" fill="#333333" font-weight="400" textLength="38.8" lengthAdjust="spacingAndGlyphs" stroke="#333333" stroke-width="0.12">Lactadherin</text>
<text x="472.9" y="199" font-size="6" text-anchor="start" fill="#333333" font-weight="400" textLength="5.4" lengthAdjust="spacingAndGlyphs" stroke="#333333" stroke-width="0.12">-/-</text>
<text x="472.59999999999997" y="208.6" font-size="6" text-anchor="start" fill="#333333" font-weight="400" textLength="7.8" lengthAdjust="spacingAndGlyphs" stroke="#333333" stroke-width="0.12">+/+</text>
<line x1="422" y1="210.1" x2="422" y2="318.0" stroke="#111" stroke-width="1.5"/>
<line x1="421.3" y1="314.7" x2="513" y2="314.7" stroke="#111" stroke-width="1.7"/>
<line x1="422" y1="314.7" x2="422" y2="318.0" stroke="#111" stroke-width="1.1"/>
<line x1="434.6" y1="314.7" x2="434.6" y2="318.0" stroke="#111" stroke-width="1.1"/>
<line x1="466.1" y1="314.7" x2="466.1" y2="318.0" stroke="#111" stroke-width="1.1"/>
<line x1="498.9" y1="314.7" x2="498.9" y2="318.0" stroke="#111" stroke-width="1.1"/>
<line x1="511" y1="314.7" x2="511" y2="318.0" stroke="#111" stroke-width="1.1"/>
<line x1="418.8" y1="211.8" x2="422" y2="211.8" stroke="#111" stroke-width="1.1"/>
<text x="416.2" y="214.3" font-size="8.6" text-anchor="end" fill="#333333" font-weight="400" textLength="8.6" lengthAdjust="spacingAndGlyphs" stroke="#333333" stroke-width="0.12">20</text>
<line x1="418.8" y1="221.46" x2="422" y2="221.46" stroke="#111" stroke-width="1.1"/>
<text x="416.2" y="223.96" font-size="8.6" text-anchor="end" fill="#333333" font-weight="400" textLength="8.6" lengthAdjust="spacingAndGlyphs" stroke="#333333" stroke-width="0.12">18</text>
<line x1="418.8" y1="231.12" x2="422" y2="231.12" stroke="#111" stroke-width="1.1"/>
<text x="416.2" y="233.62" font-size="8.6" text-anchor="end" fill="#333333" font-weight="400" textLength="8.6" lengthAdjust="spacingAndGlyphs" stroke="#333333" stroke-width="0.12">16</text>
<line x1="418.8" y1="240.78" x2="422" y2="240.78" stroke="#111" stroke-width="1.1"/>
<text x="416.2" y="243.28" font-size="8.6" text-anchor="end" fill="#333333" font-weight="400" textLength="8.6" lengthAdjust="spacingAndGlyphs" stroke="#333333" stroke-width="0.12">14</text>
<line x1="418.8" y1="250.44" x2="422" y2="250.44" stroke="#111" stroke-width="1.1"/>
<text x="416.2" y="252.94" font-size="8.6" text-anchor="end" fill="#333333" font-weight="400" textLength="8.6" lengthAdjust="spacingAndGlyphs" stroke="#333333" stroke-width="0.12">12</text>
<line x1="418.8" y1="260.1" x2="422" y2="260.1" stroke="#111" stroke-width="1.1"/>
<text x="416.2" y="262.6" font-size="8.6" text-anchor="end" fill="#333333" font-weight="400" textLength="8.6" lengthAdjust="spacingAndGlyphs" stroke="#333333" stroke-width="0.12">10</text>
<line x1="418.8" y1="269.76" x2="422" y2="269.76" stroke="#111" stroke-width="1.1"/>
<text x="416.2" y="272.26" font-size="8.6" text-anchor="end" fill="#333333" font-weight="400" textLength="4.8" lengthAdjust="spacingAndGlyphs" stroke="#333333" stroke-width="0.12">8</text>
<line x1="418.8" y1="279.42" x2="422" y2="279.42" stroke="#111" stroke-width="1.1"/>
<text x="416.2" y="281.92" font-size="8.6" text-anchor="end" fill="#333333" font-weight="400" textLength="4.8" lengthAdjust="spacingAndGlyphs" stroke="#333333" stroke-width="0.12">6</text>
<line x1="418.8" y1="289.08000000000004" x2="422" y2="289.08000000000004" stroke="#111" stroke-width="1.1"/>
<text x="416.2" y="291.58000000000004" font-size="8.6" text-anchor="end" fill="#333333" font-weight="400" textLength="4.8" lengthAdjust="spacingAndGlyphs" stroke="#333333" stroke-width="0.12">4</text>
<line x1="418.8" y1="298.74" x2="422" y2="298.74" stroke="#111" stroke-width="1.1"/>
<text x="416.2" y="301.24" font-size="8.6" text-anchor="end" fill="#333333" font-weight="400" textLength="4.8" lengthAdjust="spacingAndGlyphs" stroke="#333333" stroke-width="0.12">2</text>
<line x1="418.8" y1="308.4" x2="422" y2="308.4" stroke="#111" stroke-width="1.1"/>
<text x="416.2" y="310.9" font-size="8.6" text-anchor="end" fill="#333333" font-weight="400" textLength="4.8" lengthAdjust="spacingAndGlyphs" stroke="#333333" stroke-width="0.12">0</text>
<text x="434.6" y="328.1" font-size="8.6" text-anchor="middle" fill="#333333" font-weight="400" textLength="4.4" lengthAdjust="spacingAndGlyphs" stroke="#333333" stroke-width="0.12">0</text>
<text x="466.1" y="328.1" font-size="8.6" text-anchor="middle" fill="#333333" font-weight="400" textLength="4.4" lengthAdjust="spacingAndGlyphs" stroke="#333333" stroke-width="0.12">3</text>
<text x="498.9" y="328.1" font-size="8.6" text-anchor="middle" fill="#333333" font-weight="400" textLength="4.4" lengthAdjust="spacingAndGlyphs" stroke="#333333" stroke-width="0.12">6</text>
<line x1="429.1" y1="332.7" x2="503.9" y2="332.7" stroke="#222" stroke-width="1.2"/>
<text x="435.6" y="343.2" font-size="7.6" text-anchor="start" fill="#333333" font-weight="400" textLength="62.19999999999999" lengthAdjust="spacingAndGlyphs" stroke="#333333" stroke-width="0.12">Post-FPI time (hr)</text>
<polyline points="434.3,304.6 465.7,224.9 498.9,232.2" fill="none" stroke="#9a0a36" stroke-width="1.4"/>
<line x1="434.3" y1="303.2" x2="434.3" y2="306" stroke="#222" stroke-width="1.1"/>
<line x1="432.8" y1="303.2" x2="435.8" y2="303.2" stroke="#222" stroke-width="1.1"/>
<line x1="432.8" y1="306" x2="435.8" y2="306" stroke="#222" stroke-width="1.1"/>
<circle cx="434.3" cy="304.6" r="2.4" fill="#9a0a36"/>
<line x1="465.7" y1="220.6" x2="465.7" y2="229" stroke="#222" stroke-width="1.1"/>
<line x1="464.2" y1="220.6" x2="467.2" y2="220.6" stroke="#222" stroke-width="1.1"/>
<line x1="464.2" y1="229" x2="467.2" y2="229" stroke="#222" stroke-width="1.1"/>
<circle cx="465.7" cy="224.9" r="2.4" fill="#9a0a36"/>
<line x1="498.9" y1="225.9" x2="498.9" y2="239.1" stroke="#222" stroke-width="1.1"/>
<line x1="497.4" y1="225.9" x2="500.4" y2="225.9" stroke="#222" stroke-width="1.1"/>
<line x1="497.4" y1="239.1" x2="500.4" y2="239.1" stroke="#222" stroke-width="1.1"/>
<circle cx="498.9" cy="232.2" r="2.4" fill="#9a0a36"/>
<polyline points="435,304.6 465.9,255.2 498.9,261.1" fill="none" stroke="#2a426e" stroke-width="1.4"/>
<line x1="435" y1="303.2" x2="435" y2="306" stroke="#222" stroke-width="1.1"/>
<line x1="433.5" y1="303.2" x2="436.5" y2="303.2" stroke="#222" stroke-width="1.1"/>
<line x1="433.5" y1="306" x2="436.5" y2="306" stroke="#222" stroke-width="1.1"/>
<polygon points="432.4,302.6 437.6,302.6 435,307.20000000000005" fill="#2a426e"/>
<line x1="465.9" y1="252.7" x2="465.9" y2="257.7" stroke="#222" stroke-width="1.1"/>
<line x1="464.4" y1="252.7" x2="467.4" y2="252.7" stroke="#222" stroke-width="1.1"/>
<line x1="464.4" y1="257.7" x2="467.4" y2="257.7" stroke="#222" stroke-width="1.1"/>
<polygon points="463.29999999999995,253.2 468.5,253.2 465.9,257.8" fill="#2a426e"/>
<line x1="498.9" y1="260" x2="498.9" y2="262.2" stroke="#222" stroke-width="1.1"/>
<line x1="497.4" y1="260" x2="500.4" y2="260" stroke="#222" stroke-width="1.1"/>
<line x1="497.4" y1="262.2" x2="500.4" y2="262.2" stroke="#222" stroke-width="1.1"/>
<polygon points="496.29999999999995,259.1 501.5,259.1 498.9,263.70000000000005" fill="#2a426e"/>
<text x="465.8" y="221.5" font-size="9" text-anchor="middle" fill="#222" font-weight="700">*</text>
<text x="498.9" y="226.1" font-size="9" text-anchor="middle" fill="#222" font-weight="700">*</text>
<text transform="translate(401.7,261.3) rotate(-90)" x="0" y="0" font-size="9.7" text-anchor="middle" fill="#333333" stroke="#333333" stroke-width="0.08399999999999999" textLength="70.6" lengthAdjust="spacingAndGlyphs">D-dimer (ng/ml×100)</text>
</svg>
</body></html>
